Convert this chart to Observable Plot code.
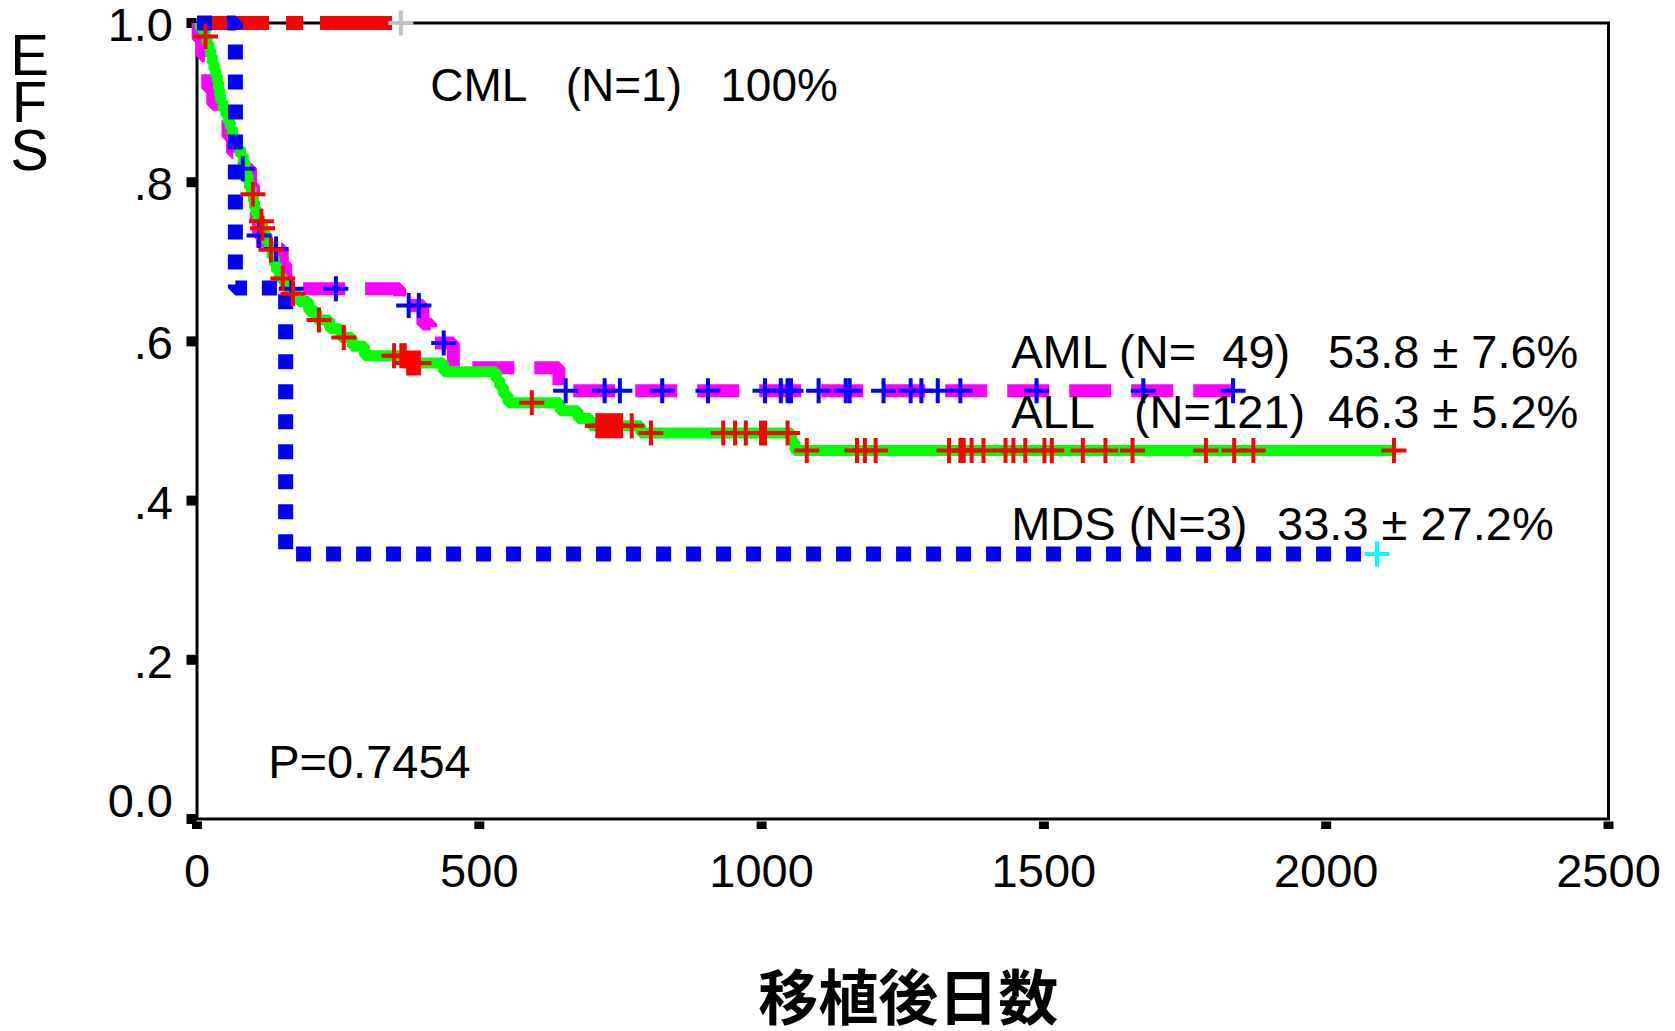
<!DOCTYPE html>
<html><head><meta charset="utf-8">
<script src="https://cdn.jsdelivr.net/npm/d3@7"></script>
<script src="https://cdn.jsdelivr.net/npm/@observablehq/plot@0.6"></script>
<style>
html,body{margin:0;padding:0;background:#fff;}
</style></head><body><div id="chart"></div>
<script>
// ---- axis ticks ----
const xTicks = [0, 500, 1000, 1500, 2000, 2500];
const xTickLabels = ["0", "500", "1000", "1500", "2000", "2500"];
const yTicks = [0, 0.2, 0.4, 0.6, 0.8, 1.0];
const yTickLabels = ["0.0", ".2", ".4", ".6", ".8", "1.0"];

// ---- AML (N=49) ----
const amlTime = [0, 2, 9, 14, 19, 28, 45, 55, 63, 72, 95, 100, 105, 109, 116, 151, 157, 161, 359, 400, 414, 454, 641, 1835];
const amlSurv = [1, 0.980, 0.959, 0.939, 0.918, 0.898, 0.878, 0.857, 0.837, 0.817, 0.796, 0.775, 0.754, 0.733, 0.716, 0.697, 0.680, 0.666, 0.645, 0.622, 0.598, 0.567, 0.538, 0.538];
const amlCensor = [81, 110, 140, 167, 246, 375, 393, 437, 653, 722, 749, 824, 905, 1006, 1034, 1046, 1052, 1101, 1149, 1156, 1216, 1264, 1283, 1312, 1352, 1487, 1676, 1835];

// ---- ALL (N=121) ----
const allTime = [0, 6, 14, 18, 21, 24, 27, 30, 33, 36, 38, 40, 42, 46, 51, 55, 59, 63, 67, 72, 77, 82, 85, 88, 90, 93, 96, 100, 102, 105, 108, 116, 120, 124, 128, 133, 137, 141, 146, 156, 163, 180, 198, 212, 235, 255, 275, 297, 370, 437, 530, 536, 543, 551, 643, 675, 697, 786, 1053, 1059, 2120];
const allSurv = [1, 0.992, 0.983, 0.975, 0.967, 0.959, 0.950, 0.942, 0.934, 0.926, 0.917, 0.909, 0.901, 0.892, 0.884, 0.876, 0.868, 0.859, 0.851, 0.843, 0.834, 0.826, 0.818, 0.809, 0.801, 0.793, 0.785, 0.776, 0.768, 0.759, 0.751, 0.742, 0.733, 0.724, 0.715, 0.706, 0.697, 0.688, 0.679, 0.669, 0.660, 0.650, 0.638, 0.627, 0.616, 0.605, 0.594, 0.582, 0.573, 0.562, 0.552, 0.543, 0.533, 0.523, 0.513, 0.503, 0.494, 0.485, 0.474, 0.463, 0.463];
const allCensor = [15, 99, 114, 116, 131, 152, 170, 216, 260, 349, 362, 368, 374, 380, 386, 393, 593, 709, 715, 721, 727, 733, 739, 745, 751, 770, 804, 932, 953, 972, 999, 1006, 1046, 1080, 1169, 1183, 1202, 1332, 1352, 1358, 1372, 1393, 1432, 1446, 1467, 1501, 1514, 1569, 1609, 1657, 1787, 1837, 1871, 2120];

// ---- MDS (N=3) ----
const mdsTime = [0, 68, 157, 2090];
const mdsSurv = [1, 0.667, 0.333, 0.333];
const mdsCensor = [2090];

// ---- CML (N=1) ----
const cmlTime = [0, 361];
const cmlSurv = [1, 1];
const cmlCensor = [361];

// ---- texts ----
const annoText = [
  "CML\u00a0\u00a0\u00a0(N=1)\u00a0\u00a0\u00a0100%",
  "AML (N=\u00a0\u00a049)", "53.8 \u00b1 7.6%",
  "ALL\u00a0\u00a0\u00a0(N=121)", "46.3 \u00b1 5.2%",
  "MDS (N=3)", "33.3 \u00b1 27.2%",
  "P=0.7454"
];
const yTitle = "E\nF\nS";
const xTitle = "移植後日数";

// ---- helpers ----
const table = (ts, ss) => ts.map((t, i) => ({t, s: ss[i]}));
const survAt = (ts, ss, t) => ss[Math.max(0, d3.bisectRight(ts, t) - 1)];
const plusSym = {
  draw(ctx, size) {
    const r = Math.sqrt(size / Math.PI);
    ctx.moveTo(-r, 0); ctx.lineTo(r, 0);
    ctx.moveTo(0, -r); ctx.lineTo(0, r);
  }
};
const censorMarks = (cs, ts, ss, color) => Plot.dot(cs, {
  x: d => d, y: d => survAt(ts, ss, d), symbol: plusSym, r: 12.5,
  stroke: color, strokeWidth: 4, fill: "none", strokeLinecap: "butt"
});
const stepLine = (ts, ss, opts) => Plot.line(table(ts, ss), {
  x: "t", y: "s", curve: "step-after", strokeLinecap: "butt", strokeLinejoin: "miter", ...opts
});
const font = "Liberation Sans, Arial, Helvetica, sans-serif";
const annot = (i, x, y, size = 47) => Plot.text([annoText[i]], {
  text: d => d, x: () => x, y: () => y, textAnchor: "start", lineAnchor: "bottom",
  fontSize: size, fontFamily: font, fill: "black"
});

const chart = Plot.plot({
  width: 1675, height: 1031,
  marginLeft: 196.5, marginRight: 67, marginTop: 22.5, marginBottom: 212.5,
  x: {domain: [0, 2500]},
  y: {domain: [0, 1]},
  style: {fontFamily: font, background: "white", overflow: "visible"},
  marks: [
    Plot.frame({stroke: "black", strokeWidth: 3}),
    Plot.axisY(yTicks, {tickSize: 10, strokeWidth: 10, fill: "none", label: null}),
    Plot.axisY(yTicks.slice(1), {tickSize: 0, tickPadding: 24, dy: 3, fontSize: 47,
      tickFormat: d => yTickLabels[yTicks.indexOf(d)], label: null}),
    Plot.axisY([0], {tickSize: 0, tickPadding: 24, dy: -17, fontSize: 47,
      tickFormat: d => yTickLabels[yTicks.indexOf(d)], label: null}),
    Plot.axisX(xTicks, {tickSize: 7.5, strokeWidth: 10, dy: 3, tickPadding: 24, fontSize: 47,
      tickFormat: d => xTickLabels[xTicks.indexOf(d)], label: null}),
    stepLine(amlTime, amlSurv, {stroke: "#ff00ff", strokeWidth: 13, strokeDasharray: "42,20"}),
    stepLine(allTime, allSurv, {stroke: "#00ff00", strokeWidth: 11}),
    stepLine(cmlTime, cmlSurv, {stroke: "#ff0000", strokeWidth: 14, strokeDasharray: "72,17,17,17"}),
    stepLine(mdsTime, mdsSurv, {stroke: "#0000ff", strokeWidth: 15, strokeDasharray: "15,15"}),
    censorMarks(amlCensor, amlTime, amlSurv, "#0000ff"),
    censorMarks(allCensor, allTime, allSurv, "#ff0000"),
    censorMarks(cmlCensor, cmlTime, cmlSurv, "#c0c0c0"),
    censorMarks(mdsCensor, mdsTime, mdsSurv, "#00ffff"),
    annot(0, 413, 0.9015, 46),
    annot(1, 1442, 0.566),
    annot(2, 2003, 0.566),
    annot(3, 1442, 0.4918),
    annot(4, 2003, 0.4918),
    annot(5, 1442, 0.3499),
    annot(6, 1913, 0.3499),
    annot(7, 126, 0.0521),
    Plot.text([yTitle], {text: d => d, frameAnchor: "top-left", dx: -167.5, dy: 18,
      textAnchor: "middle", lineAnchor: "top", lineHeight: 0.82, fontSize: 58,
      fontFamily: "Liberation Sans Narrow, Liberation Sans, Arial, sans-serif", fill: "black"}),
    Plot.text([xTitle], {text: d => d, frameAnchor: "bottom", dx: 5.5, dy: 182,
      lineAnchor: "middle", fontSize: 60, fontWeight: "bold",
      fontFamily: "Noto Sans CJK JP, Noto Sans CJK SC, sans-serif", fill: "black"})
  ]
});
document.getElementById("chart").appendChild(chart);
</script>
</body></html>
